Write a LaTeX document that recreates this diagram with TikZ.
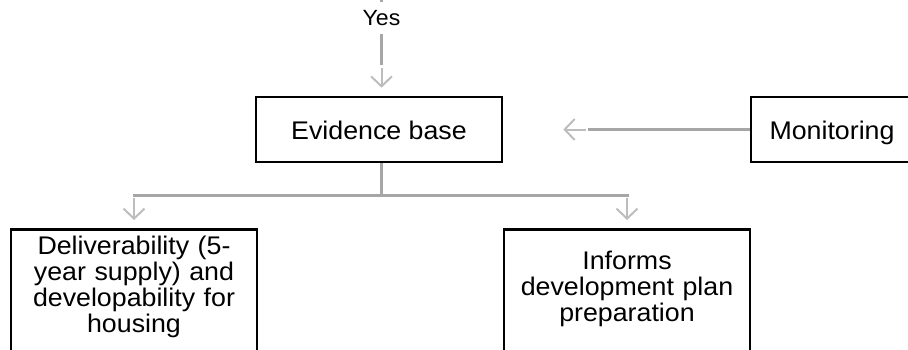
\documentclass[tikz,border=0pt]{standalone}
\usepackage{fontspec}
\setmainfont[FakeStretch=1.05]{Liberation Sans}
\usetikzlibrary{arrows.meta}
\definecolor{linegray}{HTML}{A6A6A6}
\definecolor{tipgray}{HTML}{BDBDBD}
\tikzset{
  x=1pt, y=-1pt,
  boxtxt/.style={font=\fontsize{25.5}{26}\selectfont},
  midbox/.style={boxtxt, draw=black, line width=2.6pt, minimum width=246pt, minimum height=65pt, inner sep=0pt, text height=19pt, text depth=0pt},
  lowbox/.style={boxtxt, draw=black, line width=2.6pt, minimum width=246pt, text width=236pt, align=center, inner ysep=0pt, text depth=120pt, anchor=north},
  conn/.style={draw=linegray, line width=3pt},
  tipline/.style={draw=tipgray, line width=2pt, -{Straight Barb[length=10pt,width=21pt]}},
}
\begin{document}
\begin{tikzpicture}
\useasboundingbox (0,0) rectangle (908,349);
\clip (0,0) rectangle (908,349);
% boxes
\node[midbox] (ev) at (379,129.5) {Evidence base};
\node[midbox, minimum width=162pt] (mon) at (832,129.5) {Monitoring};
\node[lowbox, text height=25pt] (del) at (134,228) {Deliverability (5-\\year supply) and\\developability for\\housing};
\node[lowbox, text height=40pt] (inf) at (627,228) {Informs\\development plan\\preparation};
% Yes connector
\node[font=\fontsize{22}{24}\selectfont, inner xsep=2pt, inner ysep=8pt, anchor=base] (yes) at (381.5,25.7) {Yes};
\coordinate (yt) at (381.5,0);
\coordinate (ya) at (381.5,65);
\draw[conn] (yt) -- (yes.north);
\draw[conn] (yes.south) -- (ya);
\draw[tipline, shorten <=3pt, shorten >=8pt] (ya) -- (ya |- ev.north);
% Monitoring connector
\coordinate (ml) at (588,129.5);
\draw[conn] (mon.west) -- (ml);
\draw[tipline, shorten <=2pt, shorten >=60pt] (ml) -- (ev.east);
% branch
\coordinate (bj) at (381.5,195);
\coordinate (bl) at (134,195);
\coordinate (br) at (627,195);
\draw[conn] (ev.south -| bj) -- (bj);
\draw[conn] ([xshift=-1.5pt]bl) -- ([xshift=1.5pt]br);
\draw[tipline, shorten <=3pt, shorten >=8pt] (bl) -- (del.north);
\draw[tipline, shorten <=3pt, shorten >=8pt] (br) -- (inf.north);
\end{tikzpicture}
\end{document}
